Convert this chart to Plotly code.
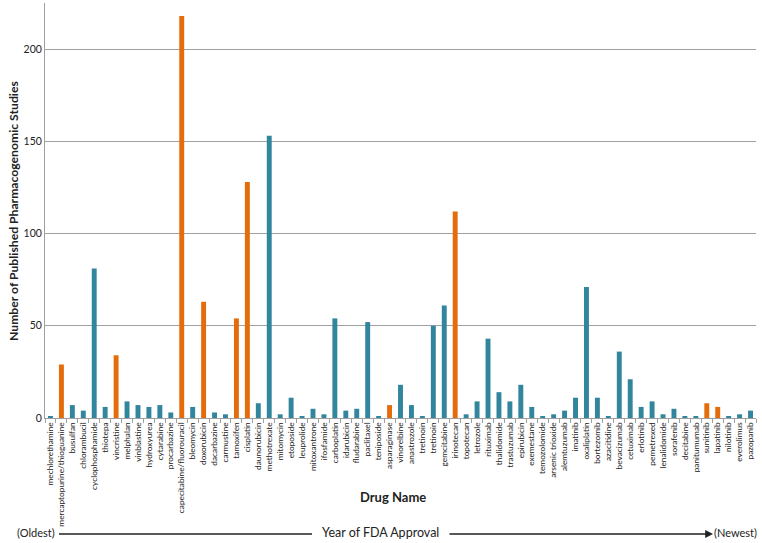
import plotly.graph_objects as go

drugs = ["mechlorethamine", "mercaptopurine/thioguanine", "busulfan", "chlorambucil", "cyclophosphamide",
         "thiotepa", "vincristine", "melphalan", "vinblastine", "hydroxyurea", "cytarabine", "procarbazine",
         "capecitabine/fluorouracil", "bleomycin", "doxorubicin", "dacarbazine", "carmustine", "tamoxifen",
         "cisplatin", "daunorubicin", "methotrexate", "mitomycin", "etoposide", "leuprolide", "mitoxantrone",
         "ifosfamide", "carboplatin", "idarubicin", "fludarabine", "paclitaxel", "teniposide", "asparaginase",
         "vinorelbine", "anastrozole", "tretinoin", "tretinoin", "gemcitabine", "irinotecan", "topotecan",
         "letrozole", "rituximab", "thalidomide", "trastuzumab", "epirubicin", "exemestane", "temozolomide",
         "arsenic trioxide", "alemtuzumab", "imatinib", "oxaliplatin", "bortezomib", "azacitidine",
         "bevacizumab", "cetuximab", "erlotinib", "pemetrexed", "lenalidomide", "sorafenib", "decitabine",
         "panitumumab", "sunitinib", "lapatinib", "nilotinib", "everolimus", "pazopanib"]
studies = [1, 29, 7, 4, 81, 6, 34, 9, 7, 6, 7, 3, 218, 6, 63, 3, 2, 54, 128, 8, 153, 2, 11, 1, 5,
           2, 54, 4, 5, 52, 1, 7, 18, 7, 1, 50, 61, 112, 2, 9, 43, 14, 9, 18, 6, 1, 2, 4, 11, 71, 11,
           1, 36, 21, 6, 9, 2, 5, 1, 1, 8, 6, 1, 2, 4]
highlighted = {"mercaptopurine/thioguanine", "vincristine", "capecitabine/fluorouracil", "doxorubicin",
               "tamoxifen", "cisplatin", "asparaginase", "irinotecan", "sunitinib", "lapatinib"}

BLUE = "#31859C"
ORANGE = "#E46C0A"
colors = [ORANGE if d in highlighted else BLUE for d in drugs]
xpos = list(range(len(drugs)))

fig = go.Figure(go.Bar(x=xpos, y=studies, marker_color=colors, marker_line_width=0, hoverinfo="skip"))

FONT = "Lato, Open Sans, sans-serif"
fig.update_layout(
    width=762, height=543,
    margin=dict(l=45, r=6, t=3, b=125),
    plot_bgcolor="white", paper_bgcolor="white",
    bargap=0.55, showlegend=False,
    font=dict(family=FONT, color="#222222"),
    xaxis=dict(
        tickmode="array", tickvals=xpos, ticktext=drugs, tickangle=-90,
        tickfont=dict(size=8.3), range=[-0.5, len(drugs) - 0.5],
        showgrid=False, showline=True, linecolor="#A0A0A0", linewidth=1,
        ticks="", zeroline=False, automargin=False,
        minor=dict(tick0=0.5, dtick=1, ticks="outside", ticklen=4, tickcolor="#A0A0A0", showgrid=False),
    ),
    yaxis=dict(
        range=[0, 225], tickvals=[0, 50, 100, 150, 200], tickfont=dict(size=10.5),
        showgrid=True, gridcolor="#A0A0A0", gridwidth=1, zeroline=False,
        showline=True, linecolor="#A0A0A0", linewidth=1, ticks="", automargin=False,
    ),
)

def px(x):
    return (x - 45) / 711

def py(y):
    return (418 - y) / 415

fig.add_annotation(x=px(14), y=py(211), xref="paper", yref="paper",
                   text="<b>Number of Published Pharmacogenomic Studies</b>", textangle=-90,
                   showarrow=False, font=dict(size=12.2), xanchor="center", yanchor="middle")
fig.add_annotation(x=px(393), y=py(497), xref="paper", yref="paper", text="<b>Drug Name</b>",
                   showarrow=False, font=dict(size=13), xanchor="center", yanchor="middle")
fig.add_annotation(x=px(15), y=py(532), xref="paper", yref="paper", text="(Oldest)",
                   showarrow=False, font=dict(size=11), xanchor="left", yanchor="middle")
fig.add_annotation(x=px(380), y=py(532), xref="paper", yref="paper", text="Year of FDA Approval",
                   showarrow=False, font=dict(size=12.5), xanchor="center", yanchor="middle")
fig.add_annotation(x=px(759), y=py(532), xref="paper", yref="paper", text="(Newest)",
                   showarrow=False, font=dict(size=11), xanchor="right", yanchor="middle")
fig.add_shape(type="line", xref="paper", yref="paper", x0=px(59), x1=px(312), y0=py(534), y1=py(534),
              line=dict(color="#222222", width=1.3))
fig.add_annotation(x=px(713), y=py(534), xref="paper", yref="paper", ax=-265, ay=0,
                   text="", showarrow=True, arrowhead=2,
                   arrowsize=1.2, arrowwidth=1.3, arrowcolor="#222222")

fig.write_html("out.html", config={"displayModeBar": False},
               post_script="document.body.style.margin='0';document.body.style.overflow='hidden';")
